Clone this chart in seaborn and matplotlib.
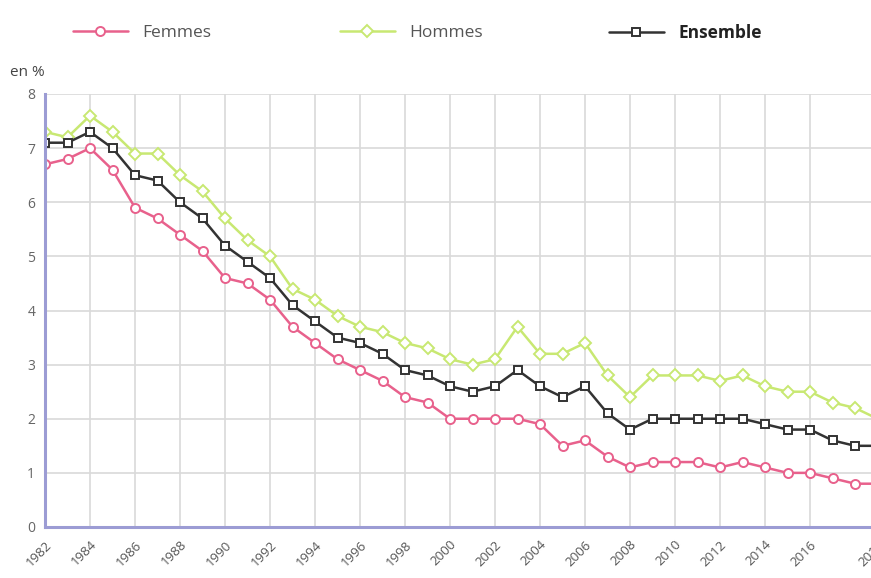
import numpy as np
import pandas as pd
import matplotlib
matplotlib.use("Agg")
import matplotlib.pyplot as plt
import seaborn as sns

# ---------------------------------------------------------------------------
# Data (en %)
# ---------------------------------------------------------------------------
YEARS = list(range(1982, 2020))

FEMMES = [6.7, 6.8, 7.0, 6.6, 5.9, 5.7, 5.4, 5.1, 4.6, 4.5,
          4.2, 3.7, 3.4, 3.1, 2.9, 2.7, 2.4, 2.3, 2.0, 2.0,
          2.0, 2.0, 1.9, 1.5, 1.6, 1.3, 1.1, 1.2, 1.2, 1.2,
          1.1, 1.2, 1.1, 1.0, 1.0, 0.9, 0.8, 0.8]
HOMMES = [7.3, 7.2, 7.6, 7.3, 6.9, 6.9, 6.5, 6.2, 5.7, 5.3,
          5.0, 4.4, 4.2, 3.9, 3.7, 3.6, 3.4, 3.3, 3.1, 3.0,
          3.1, 3.7, 3.2, 3.2, 3.4, 2.8, 2.4, 2.8, 2.8, 2.8,
          2.7, 2.8, 2.6, 2.5, 2.5, 2.3, 2.2, 2.0]
ENSEMBLE = [7.1, 7.1, 7.3, 7.0, 6.5, 6.4, 6.0, 5.7, 5.2, 4.9,
            4.6, 4.1, 3.8, 3.5, 3.4, 3.2, 2.9, 2.8, 2.6, 2.5,
            2.6, 2.9, 2.6, 2.4, 2.6, 2.1, 1.8, 2.0, 2.0, 2.0,
            2.0, 2.0, 1.9, 1.8, 1.8, 1.6, 1.5, 1.5]

SERIES = ["Femmes", "Hommes", "Ensemble"]
X_TICKS = list(range(1982, 2017, 2)) + [2019]
Y_TICKS = list(range(0, 9))

COLORS = {"Femmes": "#e8618c", "Hommes": "#c8e872", "Ensemble": "#333333"}
MARKERS = {"Femmes": "o", "Hommes": "D", "Ensemble": "s"}
MSIZE = {"Femmes": 6.5, "Hommes": 6.0, "Ensemble": 6.0}

df = pd.DataFrame({
    "annee": YEARS * 3,
    "valeur": FEMMES + HOMMES + ENSEMBLE,
    "serie": ["Femmes"] * len(YEARS) + ["Hommes"] * len(YEARS)
             + ["Ensemble"] * len(YEARS),
})

sns.set_theme(style="white")
plt.rcParams["font.family"] = ["Open Sans", "DejaVu Sans"]

fig = plt.figure(figsize=(8.71, 5.78), dpi=100)
# axes runs past the right edge of the figure: the source image is cropped
ax = fig.add_axes([45 / 871, 51 / 578, 832.5 / 871, 433 / 578])

for name in SERIES:
    sub = df[df["serie"] == name]
    sns.lineplot(data=sub, x="annee", y="valeur", ax=ax,
                 color=COLORS[name], linewidth=1.8,
                 marker=MARKERS[name], markersize=MSIZE[name],
                 markerfacecolor="white", markeredgecolor=COLORS[name],
                 markeredgewidth=1.4, label=name, zorder=3)

ax.set_xlim(1982, 2019)
ax.set_ylim(0, 8)
ax.set_xticks(X_TICKS)
ax.set_xticklabels([str(t) for t in X_TICKS], rotation=45,
                   ha="right", rotation_mode="anchor",
                   fontsize=9.5, color="#555555")
ax.set_yticks(Y_TICKS)
ax.set_yticklabels([str(t) for t in Y_TICKS], fontsize=10, color="#666666")
ax.set_xlabel("")
ax.set_ylabel("")

ax.grid(True, color="#d9d9d9", linewidth=1.2)
ax.set_axisbelow(True)
ax.tick_params(axis="x", length=5, color="#d9d9d9", width=1.2, pad=3)
ax.tick_params(axis="y", length=0, pad=7)

for side in ["top", "right"]:
    ax.spines[side].set_visible(False)
for side in ["left", "bottom"]:
    ax.spines[side].set_color("#9c9cd4")
    ax.spines[side].set_linewidth(2.2)
    ax.spines[side].set_zorder(4)

ax.get_legend().remove()
handles, labels = ax.get_legend_handles_labels()
# one legend entry per position, as in the source layout
LEG_X = {"Femmes": 57, "Hommes": 324, "Ensemble": 593}
for h, lab in zip(handles, labels):
    leg = fig.legend([h], [lab], loc="center left",
                     bbox_to_anchor=(LEG_X[lab] / 871, 1 - 33 / 578),
                     frameon=False, fontsize=12.5, handlelength=3.2,
                     handletextpad=0.8)
    txt = leg.get_texts()[0]
    txt.set_color("#555555")
    if lab == "Ensemble":
        txt.set_fontweight("bold")
        txt.set_color("#222222")

fig.text(10 / 871, 1 - 72 / 578, "en %", fontsize=11, color="#444444",
         va="center", ha="left")

fig.savefig("out.png", dpi=100, facecolor="white")
